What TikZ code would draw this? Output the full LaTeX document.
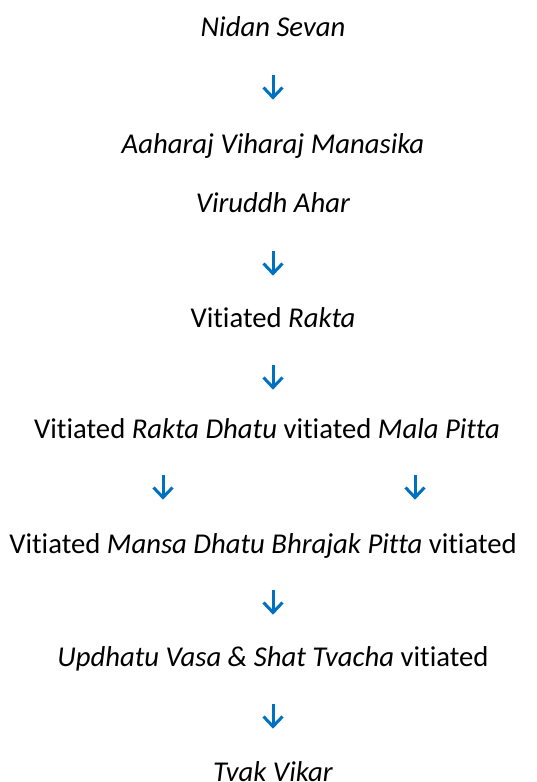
\documentclass[tikz,border=0pt]{standalone}
\usepackage{fontspec}
\setmainfont{Carlito}[Ligatures={NoCommon}]
\begin{document}
\begin{tikzpicture}[x=1pt,y=1pt,
  txt/.style={font=\fontsize{28.7}{32}\selectfont, inner sep=0pt, anchor=base},
  darr/.pic={\draw[line width=3pt, color=arrblue, line cap=butt] (0,11) -- (0,-11.5);
             \draw[line width=3pt, color=arrblue, line join=miter] (-9.5,-1.5) -- (0,-11.5) -- (9.5,-1.5);}]
\definecolor{arrblue}{HTML}{0070C0}
\useasboundingbox (0,0) rectangle (536,-782);
\node[txt] (t1) at (273,-36) {\textit{Nidan Sevan}};
\pic at (273,-86) {darr};
\node[txt] (t2) at (273,-153) {\textit{Aaharaj Viharaj Manasika}};
\node[txt] (t3) at (273,-212) {\textit{Viruddh Ahar}};
\pic at (273,-262) {darr};
\node[txt] (t4) at (273,-327) {Vitiated \textit{Rakta}};
\pic at (273,-376) {darr};
\node[txt] (t5) at (267,-438) {Vitiated \textit{Rakta Dhatu} vitiated \textit{Mala Pitta}};
\pic at (163,-486) {darr};
\pic at (415,-486) {darr};
\node[txt] (t6) at (263,-553) {Vitiated \textit{Mansa Dhatu Bhrajak Pitta} vitiated};
\pic at (273,-601) {darr};
\node[txt] (t7) at (273,-666) {\textit{Updhatu Vasa \& Shat Tvacha} vitiated};
\pic at (273,-715) {darr};
\node[txt] (t8) at (273,-781) {\textit{Tvak Vikar}};
\end{tikzpicture}
\end{document}
